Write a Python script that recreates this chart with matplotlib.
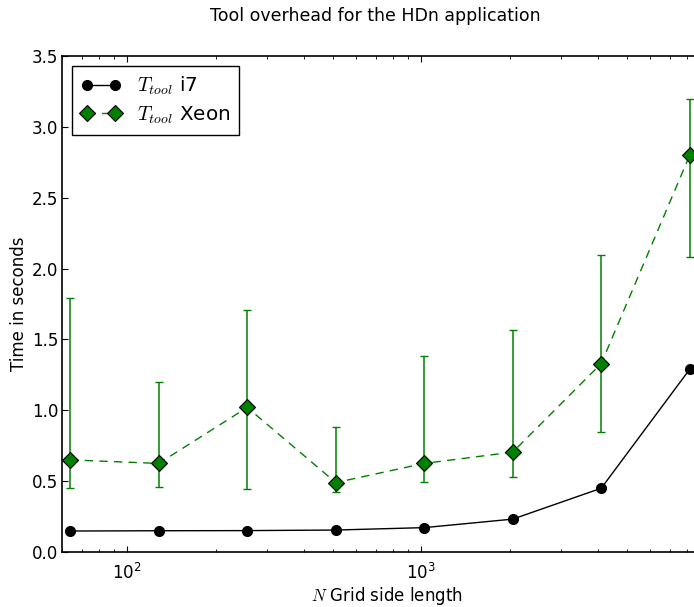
import matplotlib
matplotlib.use("Agg")
import matplotlib.pyplot as plt
from matplotlib.font_manager import FontProperties

# grid side lengths
sizes = [64, 128, 256, 512, 1024, 2048, 4096, 8192]

# i7 tool time
t_i7 = [0.148, 0.150, 0.151, 0.155, 0.172, 0.232, 0.450, 1.290]

# Xeon tool time with min/max range
t_xeon = [0.650, 0.625, 1.020, 0.490, 0.625, 0.705, 1.330, 2.800]
xeon_lo = [0.450, 0.460, 0.445, 0.420, 0.495, 0.530, 0.850, 2.085]
xeon_hi = [1.790, 1.200, 1.705, 0.885, 1.385, 1.565, 2.095, 3.200]

yticks = [0.0, 0.5, 1.0, 1.5, 2.0, 2.5, 3.0, 3.5]

plt.rcParams['font.size'] = 12
plt.rcParams['xtick.direction'] = 'in'
plt.rcParams['ytick.direction'] = 'in'
plt.rcParams['xtick.major.size'] = 4.5
plt.rcParams['xtick.minor.size'] = 2.5
plt.rcParams['ytick.major.size'] = 4.5
plt.rcParams['xtick.major.pad'] = 8
plt.rcParams['ytick.major.pad'] = 2.5

W, H = 694, 607
green = '#008000'
fig = plt.figure(figsize=(W / 100, H / 100), dpi=100)
# right side of the axes runs past the figure edge, as in the cropped original
ax = fig.add_axes([62 / W, 55 / H, 650 / W, 496 / H])

err = [[v - lo for v, lo in zip(t_xeon, xeon_lo)],
       [hi - v for v, hi in zip(t_xeon, xeon_hi)]]

ax.errorbar(sizes, t_xeon, yerr=err, fmt='none', ecolor=green,
            capsize=3.2, elinewidth=1.1, zorder=2)
ax.plot(sizes, t_i7, color='black', marker='o', markersize=7, lw=1.0,
        label=r'$T_{tool}$ i7', zorder=3)
ax.plot(sizes, t_xeon, color=green, marker='D', markersize=8,
        markeredgecolor='black', mew=0.8, lw=1.0, dashes=(6, 4.5),
        label=r'$T_{tool}$ Xeon', zorder=3)

ax.set_xscale('log')
ax.set_xlim(60, 60 * 10 ** (650 / 294))
ax.set_ylim(0, 3.5)
ax.set_yticks(yticks)
ax.set_yticklabels([f'{v:.1f}' for v in yticks])
ax.tick_params(which='both', top=True, right=True)
for s in ax.spines.values():
    s.set_linewidth(1.2)

cm = FontProperties(size=12, math_fontfamily='cm')
ax.set_xlabel(r'$N$ Grid side length', fontproperties=cm, labelpad=1)
ax.set_ylabel('Time in seconds', labelpad=3)

fig.text(375 / W, 1 - 16 / H, 'Tool overhead for the HDn application',
         ha='center', va='center', fontsize=12.5)

leg_font = FontProperties(size=14.4, math_fontfamily='cm')
leg = ax.legend(loc='upper left', prop=leg_font, numpoints=2,
                fancybox=False, framealpha=1, edgecolor='black',
                borderaxespad=0.5, handlelength=2.0, labelspacing=0.35,
                borderpad=0.45)
leg.get_frame().set_linewidth(1.0)

fig.savefig('out.png', dpi=100)
